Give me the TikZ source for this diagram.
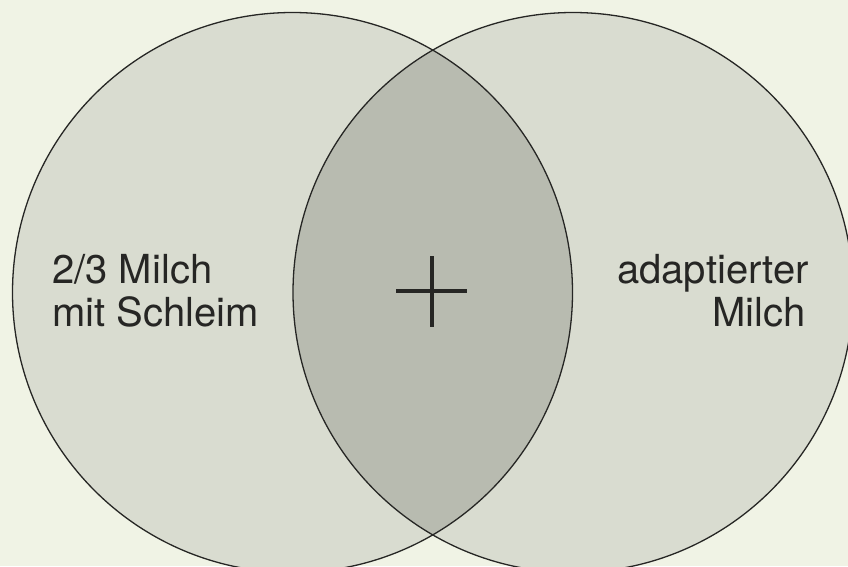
\documentclass[tikz,border=0pt]{standalone}
\usepackage{fontspec}
\setmainfont{TeX Gyre Heros}
\definecolor{cpaper}{RGB}{240,243,229}
\definecolor{cdisc}{RGB}{217,220,208}
\definecolor{clens}{RGB}{184,187,176}
\definecolor{cink}{RGB}{38,38,36}
\begin{document}
\begin{tikzpicture}[x=1pt,y=-1pt,
  outline/.style={draw=cink,line width=1.3pt},
  lab/.style={font=\fontsize{40}{44}\selectfont,text=cink,inner sep=0pt},
  crossline/.style={draw=cink,line width=3.5pt}]
\useasboundingbox (0,0) rectangle (848,566);
\fill[cpaper] (0,0) rectangle (848,566);
\coordinate (cL) at (292.5,292.5);
\coordinate (cR) at (573,292.5);
\begin{scope}
  \clip (0,0) rectangle (848,566);
  \fill[cdisc] (cL) circle[radius=280];
  \fill[cdisc] (cR) circle[radius=280];
  \begin{scope}
    \clip (cL) circle[radius=280];
    \fill[clens] (cR) circle[radius=280];
  \end{scope}
  \path[outline] (cL) circle[radius=280];
  \path[outline] (cR) circle[radius=280];
\end{scope}
\node[lab,anchor=base west] (l1) at (52,283) {2/3 Milch};
\node[lab,anchor=base west] (l2) at (52,326) {mit Schleim};
\node[lab,anchor=base east] (r1) at (809,283) {adaptierter};
\node[lab,anchor=base east] (r2) at (806,326) {Milch};
\coordinate (vt) at (432,256);
\coordinate (vb) at (432,327);
\coordinate (hl) at (396,291);
\coordinate (hr) at (467,291);
\path[crossline] (vt) -- (vb) (hl) -- (hr);
\end{tikzpicture}
\end{document}
